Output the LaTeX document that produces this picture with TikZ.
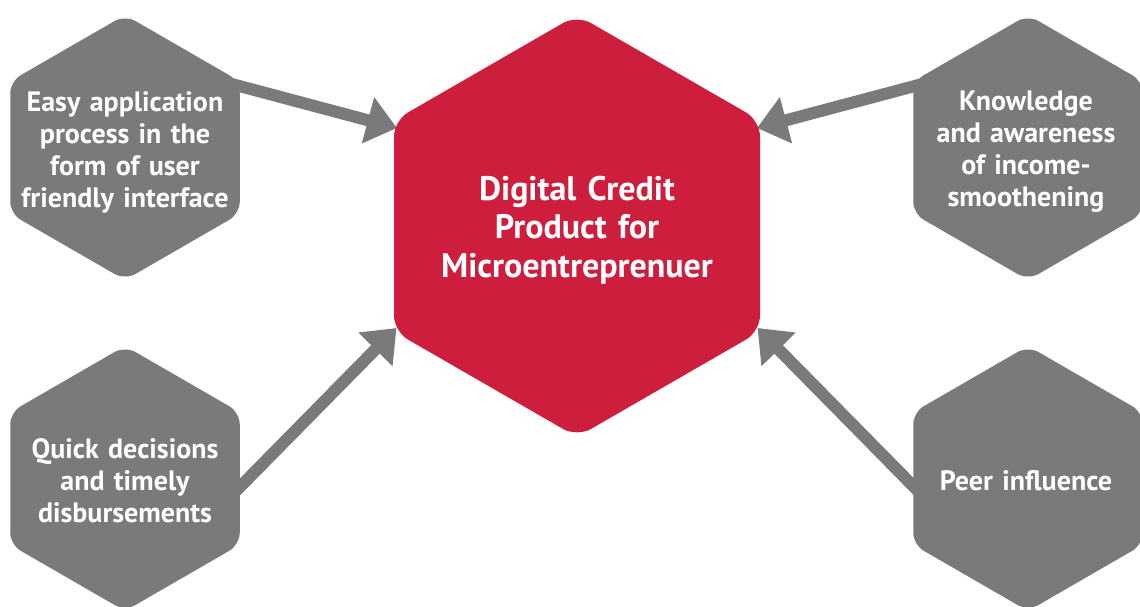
\documentclass[tikz,border=0pt]{standalone}
\usepackage{fontspec}
\setmainfont{PT Sans}
\usetikzlibrary{arrows.meta}
\definecolor{hexgrey}{HTML}{7A7A7A}
\definecolor{hexred}{HTML}{CD1F3D}
\begin{document}
\begin{tikzpicture}[x=1pt,y=-1pt,
  greyhex/.style={fill=hexgrey, rounded corners=12pt},
  redhex/.style={fill=hexred, rounded corners=16pt},
  greytxt/.style={text=white, align=center, text width=230pt, inner sep=0pt,
    font=\bfseries\fontsize{28}{32}\selectfont},
  redtxt/.style={text=white, align=center, text width=330pt, inner sep=0pt,
    font=\bfseries\fontsize{34}{38.5}\selectfont},
  conn/.style={draw=hexgrey, line width=12pt, -{Triangle[width=46pt,length=30pt]}}]
\useasboundingbox (0,0) rectangle (1140,606);
\fill[white] (0,0) rectangle (1140,606);
% connector end points
\coordinate (a1s) at (228,83);
\coordinate (a1e) at (397,128);
\coordinate (a2s) at (926,83);
\coordinate (a2e) at (757,128);
\coordinate (a3s) at (232,495);
\coordinate (a3e) at (396.5,328);
\coordinate (a4s) at (922,495);
\coordinate (a4e) at (757.5,328);
\draw[conn] (a1s) -- (a1e);
\draw[conn] (a2s) -- (a2e);
\draw[conn] (a3s) -- (a3e);
\draw[conn] (a4s) -- (a4e);
% grey hexagons
\foreach \cx/\cy in {125/147.5, 1028/147.5, 125/478.5, 1028/478.5}{
  \fill[greyhex, shift={(\cx,\cy)}] (114.75,0) -- (114.75,66.25) -- (0,132.5) -- (-114.75,66.25)
    -- (-114.75,-66.25) -- (0,-132.5) -- (114.75,-66.25) -- cycle;
}
% red hexagon
\fill[redhex, shift={(577,226)}] (183,0) -- (183,105.5) -- (0,211) -- (-183,105.5)
    -- (-183,-105.5) -- (0,-211) -- (183,-105.5) -- cycle;
% texts
\node[greytxt] (tl) at (125,152) {Easy application\\process in the\\form of user\\friendly interface};
\node[greytxt] (tr) at (1026,152) {Knowledge\\and awareness\\of income-\\smoothening};
\node[greytxt] (bl) at (125,481) {Quick decisions\\and timely\\disbursements};
\node[greytxt] (br) at (1026,481) {Peer influence};
\node[redtxt] (ctr) at (577,230) {Digital Credit\\Product for\\Microentreprenuer};
\end{tikzpicture}
\end{document}
